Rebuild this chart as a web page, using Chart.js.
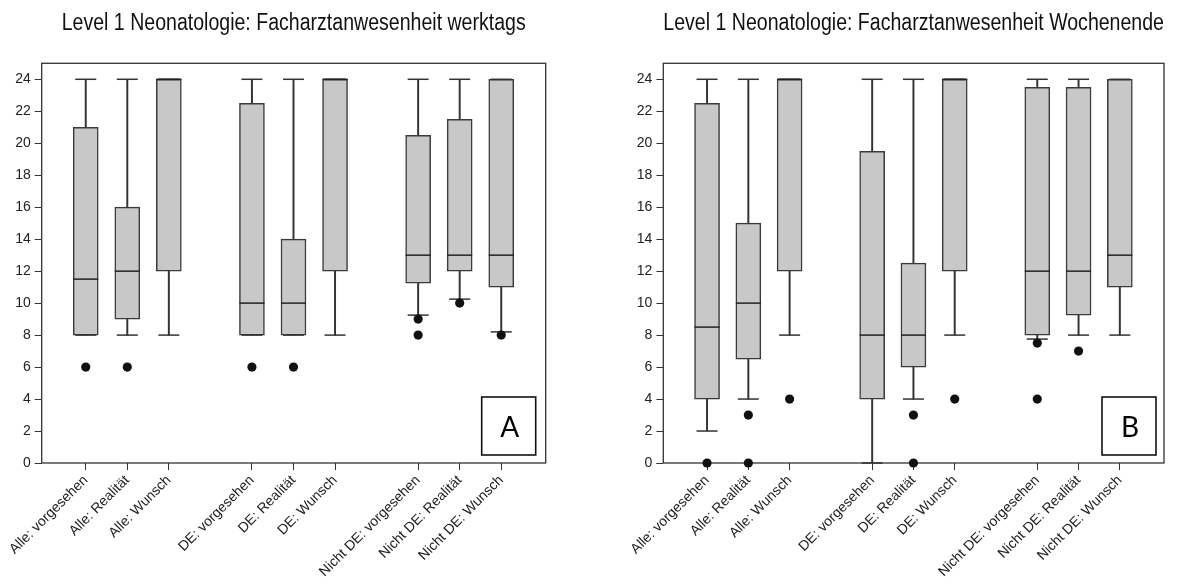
<!DOCTYPE html>
<html><head><meta charset="utf-8">
<script src="https://cdn.jsdelivr.net/npm/chart.js@4/dist/chart.umd.min.js"></script>
<style>
html,body{margin:0;padding:0;background:#fff}
body{width:1178px;height:587px;overflow:hidden;position:relative}
.panel{position:absolute;top:0;height:587px}
</style></head><body>
<div class="panel" style="left:0;width:560px"><canvas id="c1"></canvas></div>
<div class="panel" style="left:620px;width:558px"><canvas id="c2"></canvas></div>
<script>
// ---- data ----
const categories = ["Alle: vorgesehen","Alle: Realität","Alle: Wunsch","DE: vorgesehen","DE: Realität","DE: Wunsch","Nicht DE: vorgesehen","Nicht DE: Realität","Nicht DE: Wunsch"];
const positions = [0,1,2,4,5,6,8,9,10];
const yTicks = [0,2,4,6,8,10,12,14,16,18,20,22,24];

const titleWerktags = "Level 1 Neonatologie: Facharztanwesenheit werktags";
const wtLow  = [8, 8, 8, 8, 8, 8, 9.25, 10.25, 8.2];
const wtQ1   = [8, 9, 12, 8, 8, 12, 11.25, 12, 11];
const wtMed  = [11.5, 12, 24, 10, 10, 24, 13, 13, 13];
const wtQ3   = [21, 16, 24, 22.5, 14, 24, 20.5, 21.5, 24];
const wtHigh = [24, 24, 24, 24, 24, 24, 24, 24, 24];
const wtOutliers = [[6],[6],[],[6],[6],[],[9,8],[10],[8]];

const titleWochenende = "Level 1 Neonatologie: Facharztanwesenheit Wochenende";
const weLow  = [2, 4, 8, 0, 4, 8, 7.75, 8, 8];
const weQ1   = [4, 6.5, 12, 4, 6, 12, 8, 9.25, 11];
const weMed  = [8.5, 10, 24, 8, 8, 24, 12, 12, 13];
const weQ3   = [22.5, 15, 24, 19.5, 12.5, 24, 23.5, 23.5, 24];
const weHigh = [24, 24, 24, 24, 24, 24, 24, 24, 24];
const weOutliers = [[0],[3,0],[4],[],[3,0],[4],[7.5,4],[7],[]];

// ---- styling ----
const FONT = '"Liberation Sans", Arial, sans-serif';
const DARK = '#333333';

const framePlugin = {
  id: 'frame',
  beforeDatasetsDraw(chart) {
    const a = chart.chartArea, ctx = chart.ctx;
    ctx.save();
    ctx.strokeStyle = DARK; ctx.lineWidth = 1.3;
    ctx.strokeRect(a.left, a.top, a.right - a.left, a.bottom - a.top);
    ctx.restore();
  },
  afterDraw(chart, args, opts) {
    const a = chart.chartArea, ctx = chart.ctx;
    // title, centred over the plot frame (slightly condensed face as in the reference)
    ctx.save();
    ctx.fillStyle = '#111';
    ctx.font = '23px ' + FONT;
    ctx.textAlign = 'center'; ctx.textBaseline = 'alphabetic';
    ctx.translate((a.left + a.right) / 2, 30);
    ctx.scale(0.85, 1);
    ctx.fillText(opts.title, 0, 0);
    ctx.restore();
  },
  afterDatasetsDraw(chart, args, opts) {
    if (!opts.letter) return;
    const a = chart.chartArea, ctx = chart.ctx;
    const w = 54, h = 58;
    const x = a.right - opts.right - w, y = a.bottom - 8 - h;
    ctx.save();
    ctx.fillStyle = '#fff'; ctx.fillRect(x, y, w, h);
    ctx.strokeStyle = '#111'; ctx.lineWidth = 1.6; ctx.strokeRect(x, y, w, h);
    ctx.fillStyle = '#000'; ctx.font = '28px Lato, "Open Sans", sans-serif';
    ctx.textAlign = 'center'; ctx.textBaseline = 'middle';
    ctx.fillText(opts.letter, x + w/2 + 1, y + h/2 + 2);
    ctx.restore();
  }
};

function makeChart(id, title, low, q1, med, q3, high, outliers, letter, yWidth, padRight, letterRight) {
  const boxData = positions.map((x,i) => ({x, y:[q1[i], q3[i]]}));
  const wLowData = positions.map((x,i) => ({x, y:[low[i], q1[i]]}));
  const wHighData = positions.map((x,i) => ({x, y:[q3[i], high[i]]}));
  const medData = positions.map((x,i) => ({x, y: med[i]}));
  const capData = positions.flatMap((x,i) => [{x, y: low[i]}, {x, y: high[i]}]);
  const outData = positions.flatMap((x,i) => outliers[i].map(v => ({x, y: v})));

  return new Chart(document.getElementById(id), {
    type: 'bar',
    data: {
      datasets: [
        {type:'bar', data: wLowData, barThickness: 1.3, backgroundColor: DARK, borderWidth: 0, grouped: false, order: 10},
        {type:'bar', data: wHighData, barThickness: 1.3, backgroundColor: DARK, borderWidth: 0, grouped: false, order: 10},
        {type:'bar', data: boxData, barThickness: 25, backgroundColor: '#c8c8c8', borderColor: '#3a3a3a', borderWidth: 1.5, borderSkipped: false, grouped: false, order: 5},
        {type:'scatter', data: medData, pointStyle: 'line', pointRadius: 12.5, borderWidth: 1.5, borderColor: '#222', order: 2, clip: false},
        {type:'scatter', data: capData, pointStyle: 'line', pointRadius: 10.5, borderWidth: 1.5, borderColor: DARK, order: 3, clip: false},
        {type:'scatter', data: outData, pointStyle: 'circle', pointRadius: 4.6, backgroundColor: '#111', borderColor: '#111', borderWidth: 0, order: 0, clip: false}
      ]
    },
    options: {
      responsive: true, maintainAspectRatio: false, animation: false,
      events: [],
      layout: {padding: {left: 0, right: padRight, top: 63.3, bottom: 0}},
      plugins: {
        legend: {display: false}, tooltip: {enabled: false}, title: {display: false},
        frame: {letter, right: letterRight, title}
      },
      scales: {
        x: {
          type: 'linear', min: -1.06, max: 11.07, offset: false,
          grid: {display: true, drawOnChartArea: false, drawTicks: true, tickLength: 7, tickColor: DARK, offset: false},
          border: {display: false},
          afterBuildTicks: (s) => { s.ticks = positions.map(v => ({value: v})); },
          afterFit: (s) => { s.height = 124; s.paddingLeft = 0; s.paddingRight = 0; },
          ticks: {autoSkip: false, minRotation: 45, maxRotation: 45, color: '#222', padding: 2,
            font: {family: FONT, size: 14},
            callback: (v, i) => categories[i]}
        },
        y: {
          type: 'linear', min: 0, max: 25,
          grid: {display: true, drawOnChartArea: false, drawTicks: true, tickLength: 7, tickColor: DARK},
          border: {display: false},
          afterBuildTicks: (s) => { s.ticks = yTicks.map(v => ({value: v})); },
          afterFit: (s) => { s.width = yWidth; s.paddingTop = 0; s.paddingBottom = 0; },
          ticks: {color: '#222', padding: 4, font: {family: FONT, size: 14}, callback: (v) => String(v)}
        }
      }
    },
    plugins: [framePlugin]
  });
}

makeChart('c1', titleWerktags, wtLow, wtQ1, wtMed, wtQ3, wtHigh, wtOutliers, 'A', 41.7, 14.3, 10);
makeChart('c2', titleWochenende, weLow, weQ1, weMed, weQ3, weHigh, weOutliers, 'B', 43.3, 10.7, 8);
</script>
</body></html>
